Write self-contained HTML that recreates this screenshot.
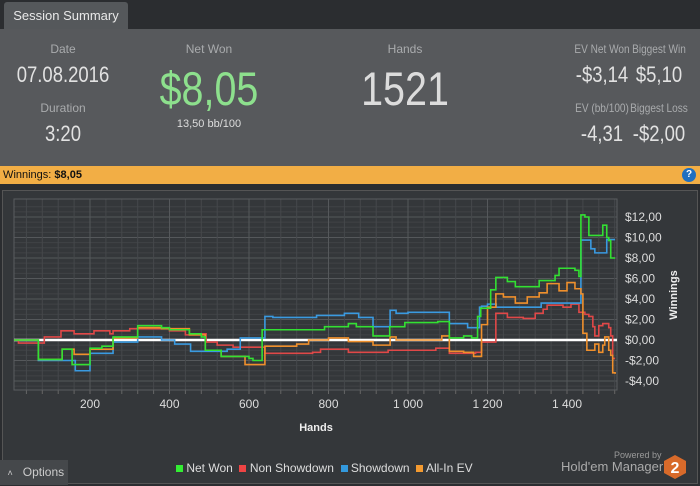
<!DOCTYPE html>
<html><head><meta charset="utf-8"><style>
body{margin:0;width:700px;height:485px;background:#2b2d30;font-family:"Liberation Sans",sans-serif;overflow:hidden;position:relative}
.a{position:absolute}
.lbl{color:#a9abad;font-size:12px;text-align:center}
.val{color:#e2e2e2;text-align:center}
.nar{transform:scaleX(0.84);transform-origin:center}
</style></head><body>
<div class="a" style="left:4px;top:2px;width:124px;height:27px;background:#55585b;border-radius:3px 3px 0 0;color:#e8e8e8;font-size:13px;line-height:28px;text-align:center">Session Summary</div>
<div class="a" style="left:0;top:29px;width:700px;height:137px;background:#57595c">
 <div class="a lbl" style="left:13px;top:13px;width:100px">Date</div>
 <div class="a val nar" style="left:3px;top:33px;width:120px;font-size:22px">07.08.2016</div>
 <div class="a lbl" style="left:13px;top:72px;width:100px">Duration</div>
 <div class="a val nar" style="left:13px;top:92px;width:100px;font-size:22px">3:20</div>
 <div class="a lbl" style="left:149px;top:13px;width:120px">Net Won</div>
 <div class="a val nar" style="left:129px;top:32px;width:160px;font-size:47px;color:#8de08d">$8,05</div>
 <div class="a val" style="left:149px;top:89px;width:120px;font-size:11px;color:#ddd">13,50 bb/100</div>
 <div class="a lbl" style="left:345px;top:13px;width:120px">Hands</div>
 <div class="a val nar" style="left:325px;top:32px;width:160px;font-size:47px;color:#dcdcdc">1521</div>
 <div class="a lbl nar" style="left:562px;top:13px;width:80px">EV Net Won</div>
 <div class="a lbl nar" style="left:619px;top:13px;width:80px">Biggest Win</div>
 <div class="a val nar" style="left:562px;top:33px;width:80px;font-size:22px">-$3,14</div>
 <div class="a val nar" style="left:619px;top:33px;width:80px;font-size:22px">$5,10</div>
 <div class="a lbl nar" style="left:562px;top:72px;width:80px">EV (bb/100)</div>
 <div class="a lbl nar" style="left:619px;top:72px;width:80px">Biggest Loss</div>
 <div class="a val nar" style="left:562px;top:92px;width:80px;font-size:22px">-4,31</div>
 <div class="a val nar" style="left:619px;top:92px;width:80px;font-size:22px">-$2,00</div>
</div>
<div class="a" style="left:0;top:166px;width:700px;height:18px;background:#f2ae45;font-size:11px;line-height:18px;color:#111">&nbsp;Winnings: <b>$8,05</b>
 <div class="a" style="right:4px;top:2px;width:14px;height:14px;border-radius:50%;background:#1f6fc0;color:#fff;font-size:10px;line-height:14px;text-align:center;font-weight:bold">?</div>
</div>
<div class="a" style="left:2px;top:190px;width:694px;height:292px;background:#34373a;border:1px solid #555"></div>
<svg class="a" style="left:0;top:0" width="700" height="485" id="svg"></svg>
<div class="a" style="left:0;top:460px;width:68px;height:25px;background:#45484b;color:#ccc;font-size:12px;line-height:25px"><span style="font-size:9px">&nbsp;&nbsp;&nbsp;˄&nbsp;&nbsp;&nbsp;&nbsp;</span>Options</div>
<div class="a" style="left:176px;top:461px;font-size:12px;color:#ddd;white-space:nowrap">
 <span><span style="display:inline-block;width:7px;height:7px;background:#33ee33"></span> Net Won</span>&nbsp;
 <span><span style="display:inline-block;width:7px;height:7px;background:#ee4444"></span> Non Showdown</span>&nbsp;
 <span><span style="display:inline-block;width:7px;height:7px;background:#3399dd"></span> Showdown</span>&nbsp;
 <span><span style="display:inline-block;width:7px;height:7px;background:#f39a30"></span> All-In EV</span>
</div>
<div class="a" style="left:614px;top:450px;font-size:9px;color:#999">Powered by</div>
<div class="a" style="left:561px;top:459px;width:98px;font-size:13px;color:#aaa;white-space:nowrap">Hold'em Manager</div>
<svg class="a" style="left:663px;top:454px" width="24" height="26"><polygon points="12,1 23,7 23,19 12,25 1,19 1,7" fill="#d86a2a"/><text x="12" y="19" font-size="16" font-weight="bold" fill="#fff" text-anchor="middle" font-family="Liberation Sans">2</text></svg>
<script>
const xTicks=[200,400,600,800,1000,1200,1400];
const xTickLabels=["200","400","600","800","1 000","1 200","1 400"];
const yTicks=[12,10,8,6,4,2,0,-2,-4];
const yTickLabels=["$12,00","$10,00","$8,00","$6,00","$4,00","$2,00","$0,00","-$2,00","-$4,00"];
const netHands=[0,70,130,155,200,230,258,320,380,400,450,480,490,530,600,610,633,750,790,850,870,912,954,992,1075,1104,1140,1160,1175,1183,1208,1221,1250,1270,1330,1370,1380,1420,1430,1435,1445,1455,1480,1490,1500,1505,1510,1521];
const netVals=[0,-1.9,-0.9,-2.4,-0.8,-0.6,0.3,1.4,1.2,1.0,0.6,0.3,-1.0,-1.6,-1.8,-2.0,1.0,1.0,1.3,1.6,1.3,0.4,1.3,1.7,1.8,0.2,0.4,0.2,2.3,3.1,4.9,6.1,5.7,5.2,5.8,6.3,7.0,6.8,6.2,12.2,12.0,10.2,10.2,11.2,10.0,9.7,8.0,8.0];
const sdHands=[0,70,163,200,258,320,380,413,453,545,578,640,660,770,840,876,912,955,970,1000,1104,1150,1180,1185,1200,1222,1335,1435,1460,1470,1500,1521];
const sdVals=[0,-2.0,-3.0,-1.3,-0.2,0.3,0.0,-0.4,-1.1,-0.9,0.2,2.3,2.2,2.4,2.6,2.2,1.3,2.9,2.6,2.7,1.6,1.2,3.2,3.3,3.5,3.2,3.6,9.75,8.9,8.5,9.8,9.8];
const nsHands=[0,20,85,127,160,210,250,258,300,400,440,480,492,520,560,640,760,780,850,950,1070,1104,1170,1185,1221,1250,1290,1320,1340,1350,1390,1410,1430,1445,1455,1465,1470,1480,1490,1505,1510,1515,1521];
const nsVals=[0,-0.3,0.3,0.9,0.6,0.9,0.6,0.9,1.1,0.9,0.5,0.6,-0.2,-0.5,-0.7,-1.3,-1.2,-0.9,-1.2,-1.0,-0.8,-1.3,-1.2,-0.2,2.6,2.2,2.1,2.6,3.0,3.4,3.2,3.5,2.7,2.5,2.3,1.3,0.4,1.4,1.6,1.2,0.4,-1.8,-1.8];
const evHands=[0,70,130,160,200,258,320,380,450,490,530,590,640,720,750,800,850,912,955,970,1085,1104,1140,1165,1185,1200,1221,1240,1270,1300,1330,1350,1380,1400,1420,1435,1440,1450,1470,1480,1490,1495,1505,1510,1515,1521];
const evVals=[0,-1.9,-0.9,-1.4,-0.9,0.2,1.2,1.1,0.5,-1.0,-1.6,-2.4,-0.6,-0.4,0.0,0.2,-0.15,-0.5,0.3,0.0,0.4,-1.1,-1.2,-1.6,1.5,3.2,4.5,4.2,3.6,4.2,4.6,5.5,4.8,5.6,5.0,4.5,0.65,-1.0,-0.4,-1.2,-0.5,0.3,-1.0,-1.5,-3.2,-3.3];
const L=14,R=617,T=199,B=390;
const xs=h=>10.5+h*0.3975;
const ys=v=>340-v*10.25;
const NS='http://www.w3.org/2000/svg';
const svg=document.getElementById('svg');
function mk(t,a){const e=document.createElementNS(NS,t);for(const k in a)e.setAttribute(k,a[k]);svg.appendChild(e);return e;}
for(let v=-5;v<=13.01;v+=0.5){const y=ys(v);if(y<T||y>B)continue;const g=mk('line',{x1:L,x2:R,y1:y,y2:y,stroke:Math.abs(v%2)<0.01?'#55585b':'#404346','stroke-width':1});

}
for(let h=40;h<1530;h+=40){const x=xs(h);if(x<L||x>R)continue;const g=mk('line',{x1:x,x2:x,y1:T,y2:B,stroke:h%200===0?'#55585b':'#45484b'});


const t=mk('line',{x1:x,x2:x,y1:B,y2:B+4,stroke:'#666'});

}
const bx=mk('rect',{x:L,y:T,width:R-L,height:B-T,fill:'none',stroke:'#5a5d60'});


xTicks.forEach((h,i)=>{const t=mk('text',{x:xs(h),y:408,fill:'#ddd','font-size':12,'text-anchor':'middle','font-family':'Liberation Sans'});t.textContent=xTickLabels[i];

});
yTicks.forEach((v,i)=>{const t=mk('text',{x:625,y:ys(v)+4,fill:'#ddd','font-size':12,'font-family':'Liberation Sans'});t.textContent=yTickLabels[i];

});
const xt=mk('text',{x:316,y:431,fill:'#eee','font-size':11,'font-weight':'bold','text-anchor':'middle','font-family':'Liberation Sans'});xt.textContent='Hands';


const yt=mk('text',{x:0,y:0,fill:'#eee','font-size':11,'font-weight':'bold','text-anchor':'middle','font-family':'Liberation Sans',transform:'translate(677,295) rotate(-90)'});yt.textContent='Winnings';


const z=mk('line',{x1:L,x2:R,y1:ys(0),y2:ys(0),stroke:'#fff','stroke-width':2.5});


function series(hs,vs,col,name){let d='M'+xs(Math.max(hs[0],9))+','+ys(vs[0]);for(let i=1;i<hs.length;i++){d+='H'+xs(hs[i])+'V'+ys(vs[i]);}
const p=mk('path',{d:d,fill:'none',stroke:col,'stroke-width':1.6});

}
series(nsHands,nsVals,'#e04848','non-showdown-line');
series(sdHands,sdVals,'#3a9ae0','showdown-line');
series(evHands,evVals,'#f0902c','all-in-ev-line');
series(netHands,netVals,'#33e033','net-won-line');
</script>
</body></html>
